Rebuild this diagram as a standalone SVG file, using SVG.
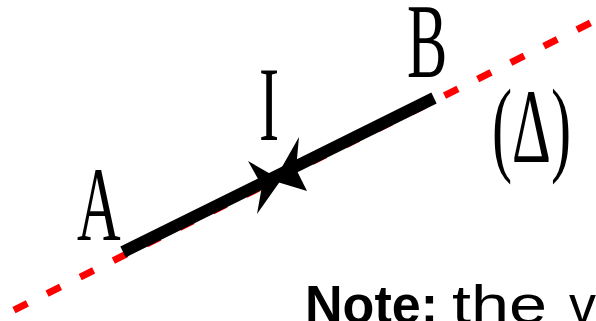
<svg xmlns="http://www.w3.org/2000/svg" width="596" height="321" viewBox="0 0 596 321">
  <style>
    .lbl { font-family: "Liberation Serif", "Times New Roman", serif; font-size: 106px; fill: #000; }
    .axis { stroke: #ff0000; stroke-width: 7; fill: none; stroke-dasharray: 15 22; stroke-dashoffset: 21.4; }
    .seg { stroke: #000; stroke-width: 12; fill: none; stroke-linecap: butt; }
    .head { fill: #000; stroke: none; }
    .note { font-family: "Liberation Sans", Arial, sans-serif; font-size: 54px; fill: #000; }
  </style>
  <rect width="596" height="321" fill="#fff"/>
  <g id="connectors">
    <path class="axis" d="M0,317 L596,20.2"/>
    <path class="seg" d="M123,252 L434,98"/>
    <polygon class="head" points="281,180 248,161 262,186 257,214"/>
    <polygon class="head" points="274,181 299,137 296,169 307,191"/>
  </g>
  <g id="A">
    <text class="lbl" transform="translate(77,240) scale(0.57,1)">A</text>
  </g>
  <g id="I">
    <text class="lbl" transform="translate(259,140) scale(0.57,1)">I</text>
  </g>
  <g id="B">
    <text class="lbl" transform="translate(407,77) scale(0.57,1)">B</text>
  </g>
  <g id="delta">
    <text class="lbl" transform="translate(492,162) scale(0.57,1)">(Δ)</text>
  </g>
  <g id="note">
    <text class="note" x="305" y="323" font-weight="bold" textLength="133" lengthAdjust="spacingAndGlyphs">Note:</text>
    <text class="note" x="452" y="323" textLength="95" lengthAdjust="spacingAndGlyphs">the</text>
    <text class="note" x="569" y="323">v</text>
  </g>
</svg>
